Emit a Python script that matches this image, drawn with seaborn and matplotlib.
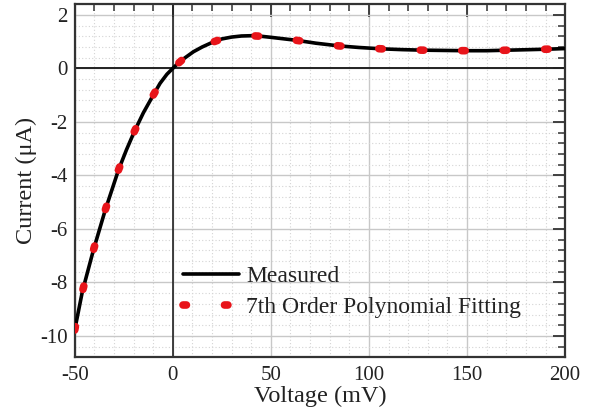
import matplotlib
matplotlib.use("Agg")
import matplotlib.pyplot as plt
from matplotlib.ticker import MultipleLocator
import seaborn as sns
import pandas as pd

# readings
voltage = [-50, -46.1, -40.5, -34.5, -27.7, -23.6, -19.6, -15, -10.2, -6.5, -3, 0,
           1.7, 5, 10.5, 15, 20.7, 25, 30, 35, 40, 45, 50, 57, 62.9, 73, 84.7,
           95, 106.3, 117, 127.5, 138, 149.3, 160, 170.9, 182, 192.2, 200]
current_measured = [-9.78, -8.34, -6.80, -5.31, -3.80, -3.04, -2.36, -1.66, -1.03,
                    -0.56, -0.22, 0.0, 0.12, 0.33, 0.62, 0.80, 0.99, 1.10, 1.17,
                    1.21, 1.22, 1.20, 1.16, 1.10, 1.05, 0.94, 0.84, 0.78, 0.73,
                    0.70, 0.68, 0.67, 0.66, 0.66, 0.68, 0.70, 0.72, 0.74]
current_fit = list(current_measured)

x_ticks = [-50, 0, 50, 100, 150, 200]
y_ticks = [-10, -8, -6, -4, -2, 0, 2]

df = pd.DataFrame({"Voltage": voltage, "Measured": current_measured, "Fit": current_fit})

sns.set_theme(style="white")
plt.rcParams["font.family"] = ["Liberation Serif", "DejaVu Serif"]
plt.rcParams["axes.unicode_minus"] = False

fig, ax = plt.subplots(figsize=(5.93, 4.15), dpi=100)
fig.subplots_adjust(left=0.126, right=0.953, top=0.99, bottom=0.139)

# grid
ax.xaxis.set_major_locator(MultipleLocator(50))
ax.xaxis.set_minor_locator(MultipleLocator(10))
ax.yaxis.set_major_locator(MultipleLocator(2))
ax.yaxis.set_minor_locator(MultipleLocator(0.4))
ax.grid(which="major", color="#c8c8c8", lw=1.0, ls="-")
ax.grid(which="minor", color="#d4d4d4", lw=0.8, ls=(0, (1, 2)))
ax.set_axisbelow(True)

ax.axhline(0, color="#222222", lw=1.4, zorder=1)
ax.axvline(0, color="#222222", lw=1.2, zorder=1)

sns.lineplot(data=df, x="Voltage", y="Measured", ax=ax, color="black", lw=2.6,
             label="Measured", zorder=3)
sns.lineplot(data=df, x="Voltage", y="Fit", ax=ax, color="#e8141a", lw=5.5,
             dashes=False, label="7th Order Polynomial Fitting", zorder=4)
fit_line = ax.get_lines()[-1]
fit_line.set_dashes((0.45, 4.98))
fit_line.set_dash_capstyle("round")

ax.set_xlim(-50, 200)
ax.set_ylim(-10.8, 2.4)
ax.set_xticks(x_ticks)
ax.set_yticks(y_ticks)
ax.set_xticklabels([str(t) for t in x_ticks])
ax.set_yticklabels([str(t) for t in y_ticks])

ax.tick_params(which="both", direction="in", top=True, right=True,
               labelsize=15, colors="#333333", labelcolor="#222222")
ax.tick_params(which="major", length=9, width=1.3)
ax.tick_params(which="minor", length=5, width=1.1)
ax.tick_params(axis="x", which="major", pad=6)
ax.tick_params(axis="y", which="major", pad=5)
for sp in ax.spines.values():
    sp.set_color("#333333")
    sp.set_linewidth(1.6)

ax.set_xlabel("Voltage (mV)", fontsize=17.5, color="#222222", labelpad=1)
ax.set_ylabel("Current (μA)", fontsize=17.5, color="#222222", labelpad=2)

leg = ax.legend(loc="lower left", bbox_to_anchor=(0.201, 0.085), frameon=False,
                fontsize=17, handlelength=2.4, handletextpad=0.3,
                labelspacing=0.38, borderaxespad=0)
for t in leg.get_texts():
    t.set_color("#222222")

fig.savefig("out.png", dpi=100)
